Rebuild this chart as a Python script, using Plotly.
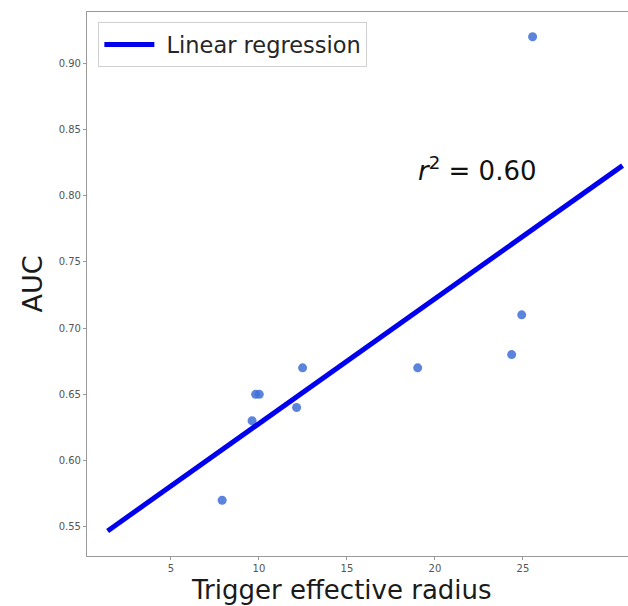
import plotly.graph_objects as go

# Data
radius = [7.91, 9.61, 9.81, 10.02, 12.14, 12.48, 19.02, 24.36, 24.93, 25.55]
auc = [0.57, 0.63, 0.65, 0.65, 0.64, 0.67, 0.67, 0.68, 0.71, 0.92]
reg_x = [1.40, 30.66]
reg_y = [0.5468, 0.8227]
r2_label = "<i>r</i><sup>2</sup> = 0.60"
x_ticks = [5, 10, 15, 20, 25]
y_ticks = [0.55, 0.60, 0.65, 0.70, 0.75, 0.80, 0.85, 0.90]

FONT = "DejaVu Sans"
TICK_COLOR = "#555555"

fig = go.Figure()
fig.add_trace(go.Scatter(
    x=radius, y=auc, mode="markers",
    marker=dict(size=9, color="rgba(65,110,215,0.85)", line=dict(width=0)),
    showlegend=False, hoverinfo="skip",
))
fig.add_trace(go.Scatter(
    x=reg_x, y=reg_y, mode="lines",
    line=dict(color="#0000ee", width=5),
    name="&nbsp;Linear regression",
))

fig.add_annotation(
    x=22.44, y=0.8205, xref="x", yref="y", text=r2_label, showarrow=False,
    font=dict(family=FONT, size=26, color="#111111"), xanchor="center", yanchor="middle",
)

fig.add_annotation(
    x=(341.5 - 87) / 541, y=0, xref="paper", yref="paper", yshift=-17,
    text="Trigger effective radius", showarrow=False,
    font=dict(family=FONT, size=26, color="#1a1a1a"),
    xanchor="center", yanchor="top",
)

fig.update_layout(
    width=628, height=606,
    margin=dict(l=87, r=0, t=12, b=50),
    paper_bgcolor="white", plot_bgcolor="white",
    font=dict(family=FONT, color="#262626"),
    legend=dict(
        x=0.021, y=0.981, xanchor="left", yanchor="top",
        bgcolor="rgba(255,255,255,0.8)", bordercolor="#d0d0d0", borderwidth=1,
        font=dict(family=FONT, size=22.5, color="#262626"),
        itemwidth=50,
    ),
    xaxis=dict(
        range=[0.23, 30.97], tickvals=x_ticks, ticktext=[str(v) for v in x_ticks],
        showgrid=False, zeroline=False,
        showline=True, linecolor="#999999", linewidth=1.2, mirror=True,
        ticks="outside", ticklen=3, tickcolor="#999999",
        tickfont=dict(family=FONT, size=10, color=TICK_COLOR),
    ),
    yaxis=dict(
        range=[0.5279, 0.9387], tickvals=y_ticks, ticktext=[f"{v:.2f}" for v in y_ticks],
        showgrid=False, zeroline=False,
        showline=True, linecolor="#999999", linewidth=1.2, mirror=False,
        ticks="outside", ticklen=3, tickcolor="#999999",
        tickfont=dict(family=FONT, size=10, color=TICK_COLOR),
        title=dict(text="AUC", font=dict(family=FONT, size=27, color="#1a1a1a"), standoff=8),
    ),
)

fig.write_html("out.html")
